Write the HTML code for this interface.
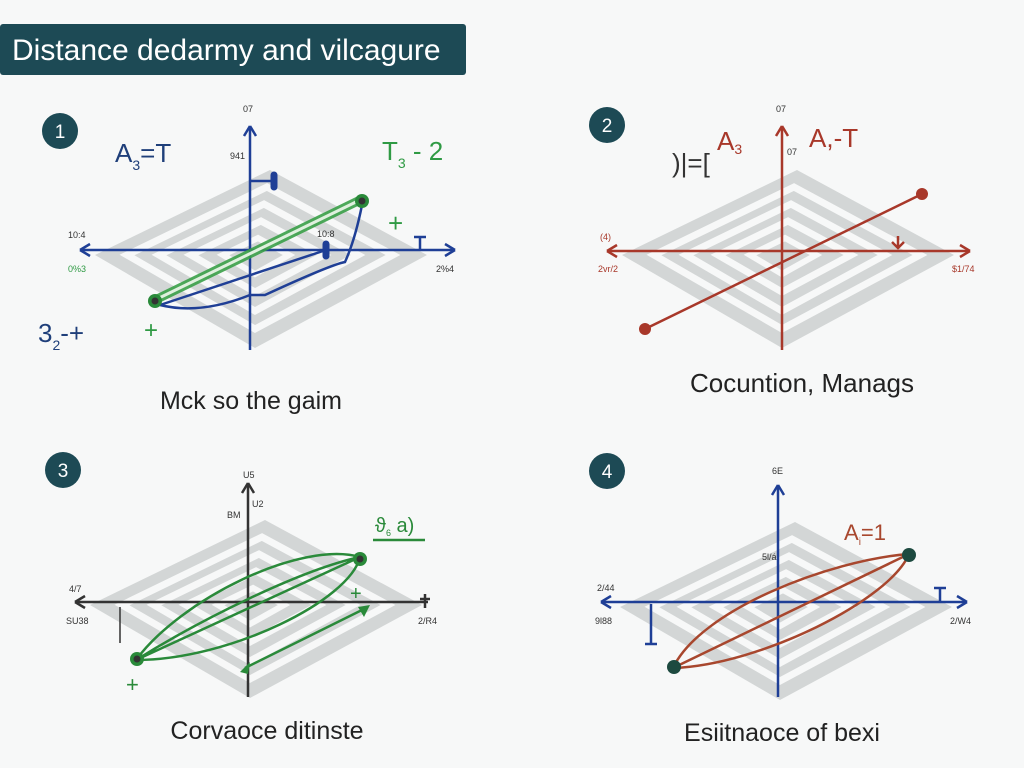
<!DOCTYPE html>
<html><head><meta charset="utf-8"><style>
html,body{margin:0;padding:0;background:#f7f8f8;}
svg{display:block;font-family:"Liberation Sans",sans-serif;}
</style></head><body>
<svg width="1024" height="768" viewBox="0 0 1024 768">
<defs>
<g id="plane">
<polygon points="-160,0 15,-85 172,0 0,93" fill="#d3d6d6"/>
<polygon points="-128,0 12,-68 138,0 0,74" fill="none" stroke="#f7f8f8" stroke-width="7"/>
<polygon points="-96,0 9,-51 103,0 0,56" fill="none" stroke="#f7f8f8" stroke-width="7"/>
<polygon points="-64,0 6,-34 69,0 0,37" fill="none" stroke="#f7f8f8" stroke-width="7"/>
<polygon points="-32,0 3,-17 34,0 0,19" fill="none" stroke="#f7f8f8" stroke-width="6"/>
</g>
</defs>
<rect width="1024" height="768" fill="#f7f8f8"/>
<rect x="0" y="24" width="466" height="51" rx="3" fill="#1d4a55"/>
<text x="12" y="60" font-size="30" fill="#fff">Distance dedarmy and vilcagure</text>

<!-- Panel 1 -->
<circle cx="60" cy="131" r="18" fill="#1d4a55"/><text x="60" y="138" font-size="19" fill="#fff" text-anchor="middle">1</text>
<use href="#plane" x="255" y="255"/>
<g stroke="#1f3f96" stroke-width="2.5" fill="none">
<line x1="80" y1="250" x2="455" y2="250"/><line x1="250" y1="350" x2="250" y2="128"/>
<path d="M80,250 l10,-6 M80,250 l10,6 M455,250 l-10,-6 M455,250 l-10,6 M250,126 l-6,10 M250,126 l6,10"/>
<path d="M250,181 h24"/><line x1="274" y1="175" x2="274" y2="187" stroke-width="7" stroke-linecap="round"/>
<line x1="326" y1="244" x2="326" y2="256" stroke-width="7" stroke-linecap="round"/>
<path d="M160,305 Q200,315 250,295 L265,295 Q330,265 345,262 Q355,240 362,205"/>
<path d="M160,305 L326,250"/>
<path d="M420,237 v13 M414,237 h12"/>
</g>
<path d="M155,300 L360,200" stroke="#3aa048" stroke-width="9" stroke-linecap="round" fill="none" opacity="0.9"/>
<path d="M155,300 L360,200" stroke="#dff0de" stroke-width="3" fill="none"/>
<circle cx="155" cy="301" r="7" fill="#2a8a3a"/><circle cx="155" cy="301" r="3.5" fill="#333"/>
<circle cx="362" cy="201" r="7" fill="#2a8a3a"/><circle cx="362" cy="201" r="3.5" fill="#333"/>
<text x="115" y="162" font-size="26" fill="#1f3f7a">A<tspan font-size="14" dy="8">3</tspan><tspan dy="-8">=T</tspan></text>
<text x="382" y="160" font-size="26" fill="#2f9a44">T<tspan font-size="14" dy="8">3</tspan><tspan dy="-8"> - 2</tspan></text>
<text x="38" y="342" font-size="26" fill="#1f3f7a">3<tspan font-size="14" dy="8">2</tspan><tspan dy="-8">-+</tspan></text>
<text x="388" y="232" font-size="26" fill="#2f9a44">+</text>
<text x="144" y="338" font-size="24" fill="#2f9a44">+</text>
<g font-size="9" fill="#333"><text x="243" y="112">07</text><text x="230" y="159">941</text><text x="68" y="238">10:4</text><text x="68" y="272" fill="#2f9a44">0%3</text><text x="436" y="272">2%4</text><text x="317" y="237">10:8</text></g>
<text x="251" y="409" font-size="25" fill="#222" text-anchor="middle">Mck so the gaim</text>

<!-- Panel 2 -->
<circle cx="607" cy="125" r="18" fill="#1d4a55"/><text x="607" y="132" font-size="19" fill="#fff" text-anchor="middle">2</text>
<use href="#plane" x="782" y="255"/>
<g stroke="#a8382a" stroke-width="2.5" fill="none">
<line x1="607" y1="251" x2="970" y2="251"/><line x1="782" y1="350" x2="782" y2="128"/>
<path d="M607,251 l10,-6 M607,251 l10,6 M970,251 l-10,-6 M970,251 l-10,6 M782,126 l-6,10 M782,126 l6,10"/>
<line x1="645" y1="329" x2="922" y2="194"/>
<path d="M898,236 v12 M892,242 l6,6 l6,-6"/>
</g>
<circle cx="645" cy="329" r="6" fill="#a8382a"/><circle cx="922" cy="194" r="6" fill="#a8382a"/>
<text x="672" y="172" font-size="26" fill="#333">)|=[</text>
<text x="717" y="150" font-size="26" fill="#a8382a">A<tspan font-size="14" dy="4">3</tspan></text>
<text x="809" y="147" font-size="26" fill="#a8382a">A<tspan>,-T</tspan></text>
<g font-size="9" fill="#333"><text x="776" y="112">07</text><text x="787" y="155">07</text><text x="600" y="240" fill="#a8382a">(4)</text><text x="598" y="272" fill="#a8382a">2vr/2</text><text x="952" y="272" fill="#a8382a">$1/74</text></g>
<text x="802" y="392" font-size="26" fill="#222" text-anchor="middle">Cocuntion, Manags</text>

<!-- Panel 3 -->
<circle cx="63" cy="470" r="18" fill="#1d4a55"/><text x="63" y="477" font-size="19" fill="#fff" text-anchor="middle">3</text>
<use href="#plane" x="250" y="605"/>
<g stroke="#333" stroke-width="2.5" fill="none">
<line x1="75" y1="602" x2="428" y2="602"/><line x1="248" y1="697" x2="248" y2="485"/>
<path d="M75,602 l10,-6 M75,602 l10,6 M248,483 l-6,10 M248,483 l6,10 M425,594 v14 M420,599 h10"/>
<path d="M120,607 v36" stroke-width="1.5"/>
</g>
<g stroke="#2a8a3a" stroke-width="2.5" fill="none">
<path d="M136,660 C180,600 300,540 360,557 C350,600 230,660 136,660 Z"/>
<path d="M136,660 L360,557 M136,660 C200,620 300,570 360,557"/>
<line x1="245" y1="668" x2="366" y2="608"/>
<line x1="373" y1="540" x2="425" y2="540"/>
</g>
<path d="M240,672 l10,-10 l-2,12z M370,605 l-12,2 l6,10z" fill="#2a8a3a"/>
<circle cx="137" cy="659" r="7" fill="#2a8a3a"/><circle cx="137" cy="659" r="3.5" fill="#333"/>
<circle cx="360" cy="559" r="7" fill="#2a8a3a"/><circle cx="360" cy="559" r="3.5" fill="#333"/>
<text x="375" y="532" font-size="20" fill="#2a8a3a">ϑ<tspan font-size="9" dy="4">6</tspan><tspan dy="-4"> a)</tspan></text>
<text x="126" y="692" font-size="22" fill="#2a8a3a">+</text><text x="350" y="600" font-size="20" fill="#2a8a3a">+</text>
<g font-size="9" fill="#333"><text x="243" y="478">U5</text><text x="227" y="518">BM</text><text x="252" y="507">U2</text><text x="69" y="592">4/7</text><text x="66" y="624">SU38</text><text x="418" y="624">2/R4</text></g>
<text x="267" y="739" font-size="25" fill="#222" text-anchor="middle">Corvaoce ditinste</text>

<!-- Panel 4 -->
<circle cx="607" cy="471" r="18" fill="#1d4a55"/><text x="607" y="478" font-size="19" fill="#fff" text-anchor="middle">4</text>
<use href="#plane" x="780" y="607"/>
<g stroke="#1f3f96" stroke-width="2.5" fill="none">
<line x1="601" y1="602" x2="967" y2="602"/><line x1="778" y1="697" x2="778" y2="487"/>
<path d="M601,602 l10,-6 M601,602 l10,6 M967,602 l-10,-6 M967,602 l-10,6 M778,485 l-6,10 M778,485 l6,10"/>
<path d="M651,604 v40 M645,644 h12 M940,588 v14 M934,588 h12"/>
</g>
<g stroke="#a8472e" stroke-width="2.5" fill="none">
<path d="M673,668 C700,610 830,560 909,554 C890,600 760,665 673,668 Z"/>
<path d="M673,668 L909,554"/>
</g>
<circle cx="674" cy="667" r="7" fill="#1d4a40"/><circle cx="909" cy="555" r="7" fill="#1d4a40"/>
<text x="844" y="540" font-size="22" fill="#a8472e">A<tspan font-size="10" dy="5">i</tspan><tspan dy="-5">=1</tspan></text>
<g font-size="9" fill="#333"><text x="772" y="474">6E</text><text x="762" y="560">5l/á</text><text x="597" y="591">2/44</text><text x="595" y="624">9l88</text><text x="950" y="624">2/W4</text></g>
<text x="782" y="741" font-size="25" fill="#222" text-anchor="middle">Esiitnaoce of bexi</text>
</svg>
</body></html>
